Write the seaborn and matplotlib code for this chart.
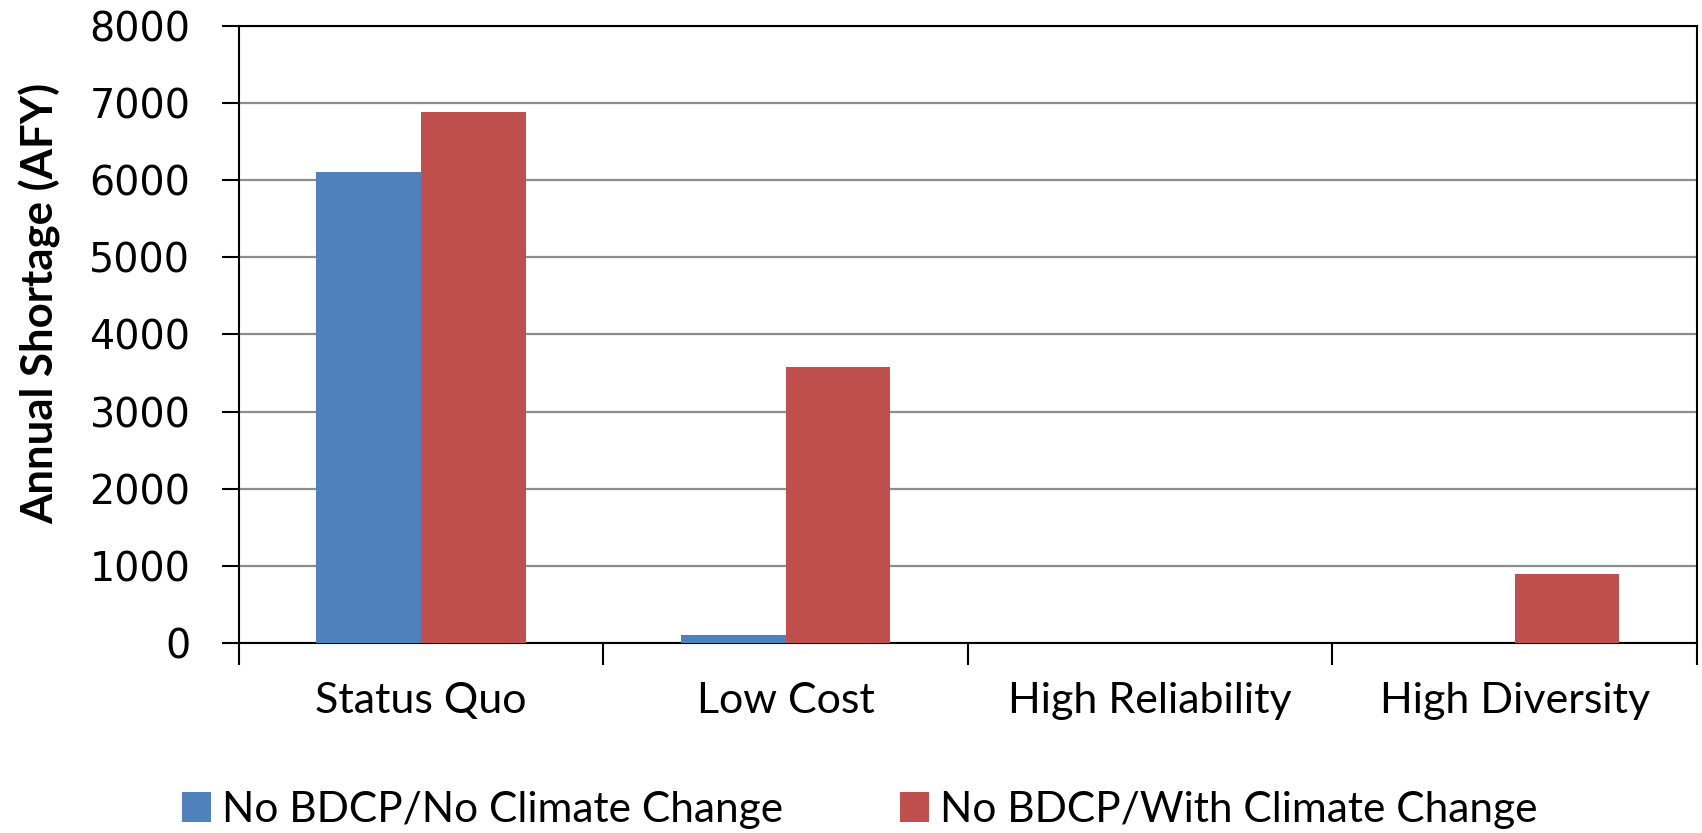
import matplotlib
matplotlib.use("Agg")
import matplotlib.pyplot as plt
import seaborn as sns
import pandas as pd
from matplotlib.patches import Patch

# Data
categories = ["Status Quo", "Low Cost", "High Reliability", "High Diversity"]
series_names = ["No BDCP/No Climate Change", "No BDCP/With Climate Change"]
no_climate = [6100, 100, 0, 0]
with_climate = [6880, 3580, 0, 900]
y_ticks = [0, 1000, 2000, 3000, 4000, 5000, 6000, 7000, 8000]
colors = ["#4F81BD", "#C0504D"]

df = pd.DataFrame({
    "Scenario": categories * 2,
    "Series": [series_names[0]] * len(categories) + [series_names[1]] * len(categories),
    "Shortage": no_climate + with_climate,
})

sns.set_theme(style="white")
plt.rcParams["font.family"] = ["DejaVu Sans"]
plt.rcParams["text.color"] = "black"
plt.rcParams["axes.labelcolor"] = "black"
plt.rcParams["xtick.color"] = "black"
plt.rcParams["ytick.color"] = "black"

fig = plt.figure(figsize=(17.02, 8.33), dpi=100)
ax = fig.add_axes([0.1404, 0.228, 0.8566, 0.741])

sns.barplot(data=df, x="Scenario", y="Shortage", hue="Series", order=categories,
            hue_order=series_names, palette=colors, width=0.575, saturation=1,
            linewidth=0, ax=ax, legend=False, zorder=3)

ax.set_ylim(0, 8000)
ax.set_xlim(-0.5, len(categories) - 0.5)
ax.set_yticks(y_ticks)
ax.set_yticklabels([str(v) for v in y_ticks], fontsize=28.5, family="DejaVu Sans")
ax.yaxis.grid(True, color="#8c8c8c", linewidth=1.6, zorder=0)
ax.set_axisbelow(True)

# category boundaries carry the tick marks, labels sit at the centres
ax.set_xticks([i - 0.5 for i in range(len(categories) + 1)])
ax.set_xticklabels([])
ax.set_xticks(range(len(categories)), minor=True)
ax.set_xticklabels(categories, minor=True, fontsize=31, family="Lato")
ax.tick_params(axis="x", which="major", length=16, width=1.5, color="black", direction="out", bottom=True)
ax.tick_params(axis="x", which="minor", length=0, pad=28)
ax.tick_params(axis="y", length=12, width=1.5, color="black", direction="out", left=True, pad=23)

for s in ax.spines.values():
    s.set_visible(True)
    s.set_color("black")
    s.set_linewidth(1.5)

ax.set_xlabel("")
ax.set_ylabel("Annual Shortage (AFY)", fontsize=31.5, fontweight="bold", family="Lato")
ax.yaxis.set_label_coords(-0.122, 0.55)

handles = [Patch(facecolor=c, edgecolor="none") for c in colors]
fig.legend(handles, series_names, loc="center", bbox_to_anchor=(0.505, 0.028), ncol=2,
           frameon=False, prop={"family": "Lato", "size": 30.5}, handlelength=0.7,
           handleheight=0.7, handletextpad=0.25, columnspacing=2.75)

fig.savefig("out.png", dpi=100)
